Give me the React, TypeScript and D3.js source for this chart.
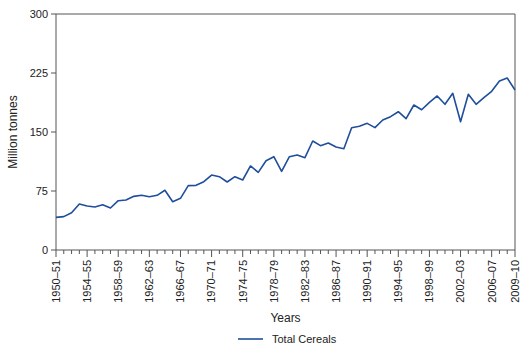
import React from "react";
import * as d3 from "d3";

const startYears: number[] = d3.range(1950, 2010);
const years: string[] = startYears.map(
  (y) => `${y}–${String((y + 1) % 100).padStart(2, "0")}`
);
const cereals: number[] = [
  41.5, 42.4, 47.4, 58.5, 56.0, 54.7, 57.6, 53.4, 62.7, 63.6,
  68.2, 69.5, 67.8, 69.5, 75.9, 61.4, 65.7, 81.8, 82.2, 86.8,
  95.3, 93.2, 86.4, 93.2, 89.0, 106.8, 98.7, 113.5, 118.6, 100.0,
  118.6, 120.8, 117.4, 138.6, 132.6, 136.0, 130.9, 128.8, 155.5, 157.2,
  161.0, 155.5, 165.2, 169.5, 175.8, 166.9, 184.3, 178.3, 187.7, 195.8,
  185.2, 199.2, 163.1, 197.9, 185.2, 193.6, 201.7, 214.8, 218.6, 203.4,
];
const yTicks: number[] = [0, 75, 150, 225, 300];
const labelIdx: number[] = [0, 4, 8, 12, 16, 20, 24, 28, 32, 36, 40, 44, 48, 52, 56, 59];

const W = 530, H = 355;
const L = 56, R = 515, T = 14, B = 250;
const axisColor = "#555";
const lineColor = "#1f4e9c";
const font = "'Liberation Sans', Arial, sans-serif";

export default function App() {
  const x = d3.scaleLinear().domain([0, years.length - 1]).range([L, R]);
  const y = d3.scaleLinear().domain([0, 300]).range([B, T]);
  const line = d3.line<number>().x((_, i) => x(i)).y((d) => y(d));
  return (
    <svg width={W} height={H} style={{ position: "absolute", left: 0, top: 0 }} fontFamily={font}>
      <rect x={0} y={0} width={W} height={H} fill="#fff" />
      {/* frame */}
      <line x1={L} x2={R} y1={T} y2={T} stroke={axisColor} strokeWidth={1} />
      <line x1={R} x2={R} y1={T} y2={B} stroke={axisColor} strokeWidth={1} />
      <line x1={L} x2={L} y1={T} y2={B} stroke={axisColor} strokeWidth={1} />
      <line x1={L} x2={R} y1={B} y2={B} stroke={axisColor} strokeWidth={1} />
      {yTicks.map((t) => (
        <g key={t}>
          <line x1={L - 5} x2={L} y1={y(t)} y2={y(t)} stroke={axisColor} />
          <text x={L - 8} y={y(t)} dy="0.35em" textAnchor="end" fontSize={11} fill="#222">
            {t}
          </text>
        </g>
      ))}
      {years.map((lab, i) => {
        const major = labelIdx.includes(i);
        return (
          <line key={lab} x1={x(i)} x2={x(i)} y1={B} y2={B + (major ? 7 : 4)} stroke={axisColor} />
        );
      })}
      {labelIdx.map((i) => (
        <text
          key={"l" + i}
          transform={`translate(${x(i)},${B + 10}) rotate(-90)`}
          textAnchor="end"
          dy="0.35em"
          fontSize={11}
          fill="#222"
        >
          {years[i]}
        </text>
      ))}
      <path d={line(cereals) || ""} fill="none" stroke={lineColor} strokeWidth={1.6} strokeLinejoin="round" />
      <text
        transform={`translate(17,${(T + B) / 2}) rotate(-90)`}
        textAnchor="middle"
        fontSize={12}
        fill="#222"
      >
        Million tonnes
      </text>
      <text x={(L + R) / 2} y={322} textAnchor="middle" fontSize={12} fill="#222">
        Years
      </text>
      <line x1={238} x2={263} y1={339} y2={339} stroke={lineColor} strokeWidth={1.6} />
      <text x={272} y={343} fontSize={11} fill="#222">
        Total Cereals
      </text>
    </svg>
  );
}
